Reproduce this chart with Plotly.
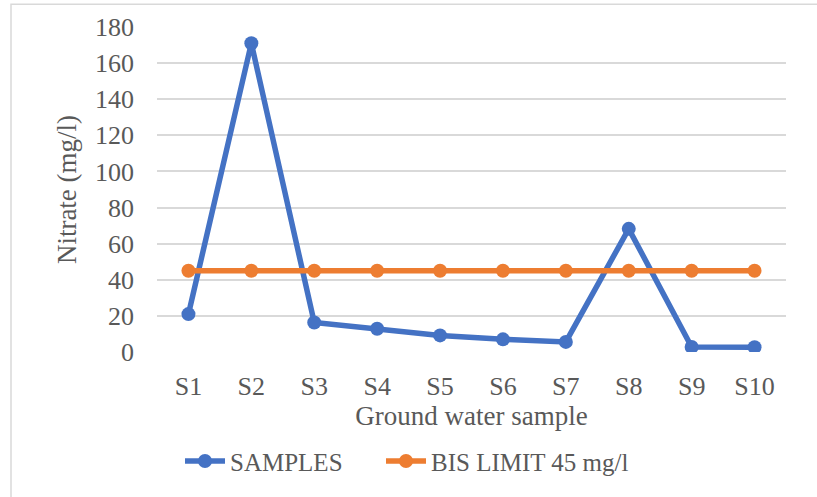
import plotly.graph_objects as go

categories = ["S1", "S2", "S3", "S4", "S5", "S6", "S7", "S8", "S9", "S10"]
samples = [21, 171, 16.3, 12.9, 9.2, 7, 5.6, 68.2, 2.8, 2.7]
bis_limit = [45] * 10
y_ticks = [0, 20, 40, 60, 80, 100, 120, 140, 160, 180]

FONT = "Liberation Serif, Times New Roman, serif"
GRAY = "#595959"
GRID = "#d9d9d9"

L, R, T = 157, 786, 26.7
B0 = 352.5
W, H = 817, 497
pw = R - L
ph = B0 - T
ly = -(462 - B0) / ph

fig = go.Figure()
fig.add_trace(go.Scatter(
    x=categories, y=samples, name="SAMPLES", mode="lines+markers",
    line=dict(color="#4472C4", width=5.5),
    marker=dict(color="#4472C4", size=14),
    legend="legend",
))
fig.add_trace(go.Scatter(
    x=categories, y=bis_limit, name="BIS LIMIT 45 mg/l", mode="lines+markers",
    line=dict(color="#ED7D31", width=5.5),
    marker=dict(color="#ED7D31", size=14),
    legend="legend2",
))

leg_common = dict(
    orientation="h", y=ly, yanchor="middle", xanchor="left",
    font=dict(family=FONT, size=25, color=GRAY),
    itemwidth=40, bgcolor="rgba(0,0,0,0)",
)

fig.update_layout(
    width=W, height=H,
    margin=dict(l=L, r=W - R, t=T, b=H - B0, autoexpand=False),
    paper_bgcolor="white", plot_bgcolor="white",
    font=dict(family=FONT, size=25, color=GRAY),
    showlegend=True,
    legend=dict(x=(180 - L) / pw, **leg_common),
    legend2=dict(x=(381 - L) / pw, **leg_common),
    xaxis=dict(
        type="category", range=[-0.5, len(categories) - 0.5],
        showgrid=False, zeroline=False, automargin=False,
        showline=False, ticks="", ticklabelstandoff=16,
        tickfont=dict(family=FONT, size=26, color=GRAY),
        title=dict(text="Ground water sample", standoff=4,
                   font=dict(family=FONT, size=27, color=GRAY)),
    ),
    yaxis=dict(
        range=[0, 180], tickvals=y_ticks, showgrid=True, gridcolor=GRID,
        gridwidth=1.5, zeroline=False, showline=False, ticks="",
        automargin=False, ticklabelstandoff=22,
        tickfont=dict(family=FONT, size=26, color=GRAY),
        title=dict(text="Nitrate (mg/l)", standoff=10,
                   font=dict(family=FONT, size=27, color=GRAY)),
    ),
    shapes=[dict(
        type="rect", xref="paper", yref="paper",
        x0=(11 - L) / pw, x1=(W + 5 - L) / pw,
        y0=-(H + 5 - B0) / ph, y1=(B0 - 4) / ph,
        line=dict(color=GRID, width=1.5), layer="below",
    )],
)

fig.write_html("out.html")
